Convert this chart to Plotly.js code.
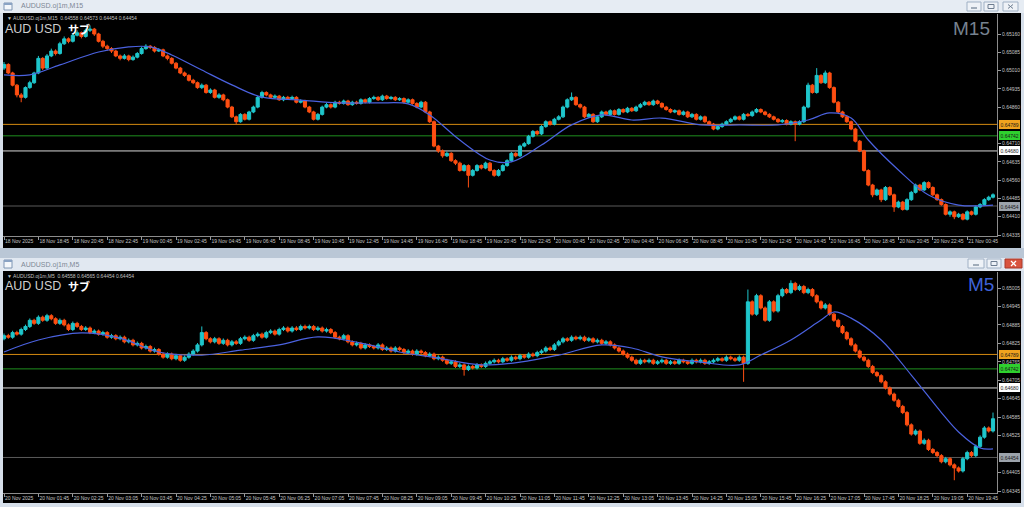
<!DOCTYPE html>
<html><head><meta charset="utf-8">
<script src="https://cdn.plot.ly/plotly-3.0.1.min.js"></script>
<style>html,body{margin:0;padding:0;background:#d6dfea;overflow:hidden}#chart{width:1024px;height:507px}</style>
</head><body><div id="chart"></div>
<script>
// Prices are in points above 0.64300 (1 point = 0.00001)
const BASE = 0.643;
const m15Open = [720,735,700,650,610,600,640,660,700,760, 720,770,790,780,820,840,830,855,865,850, 875,880,860,830,810,800,790,770,760,770, 755,765,780,800,810,805,790,795,770,760, 740,720,700,690,670,660,640,650,620,630, 600,610,590,560,520,500,530,510,540,560, 600,620,610,600,605,590,600,595,600,580, 585,560,540,510,530,560,570,560,580,575, 585,570,580,575,590,580,595,600,590,605, 595,600,590,595,580,590,575,560,580,540, 500,400,380,360,370,340,330,300,320,280, 300,320,310,330,300,280,300,320,340,370, 360,400,410,440,460,450,480,500,490,510, 520,560,590,600,570,560,520,530,500,520, 540,530,545,530,550,540,555,545,560,570, 580,570,585,575,560,550,540,545,530,540, 520,530,510,520,500,490,470,480,490,500, 510,520,510,530,525,540,550,540,530,520, 510,500,505,490,500,490,500,560,650,620, 690,660,700,640,580,540,520,500,470,420, 380,300,240,200,220,180,230,200,150,170, 140,180,210,240,220,250,230,200,180,160, 120,130,110,120,100,130,120,150,160,180, 190];
const m15Close = [735,700,650,610,600,640,660,700,760,720, 770,790,780,820,840,830,855,865,850,875, 880,860,830,810,800,790,770,760,770,755, 765,780,800,810,805,790,795,770,760,740, 720,700,690,670,660,640,650,620,630,600, 610,590,560,520,500,530,510,540,560,600, 620,610,600,605,590,600,595,600,580,585, 560,540,510,530,560,570,560,580,575,585, 570,580,575,590,580,595,600,590,605,595, 600,590,595,580,590,575,560,580,540,500, 400,380,360,370,340,330,300,320,280,300, 320,310,330,300,280,300,320,340,370,360, 400,410,440,460,450,480,500,490,510,520, 560,590,600,570,560,520,530,500,520,540, 530,545,530,550,540,555,545,560,570,580, 570,585,575,560,550,540,545,530,540,520, 530,510,520,500,490,470,480,490,500,510, 520,510,530,525,540,550,540,530,520,510, 500,505,490,500,490,500,560,650,620,690, 660,700,640,580,540,520,500,470,420,380, 300,240,200,220,180,230,200,150,170,140, 180,210,240,220,250,230,200,180,160,120, 130,110,120,100,130,120,150,160,180,190, 200];
const m15High = [745,740,705,655,618,645,668,705,770,765, 778,800,797,828,850,846,862,875,870,882, 895,885,865,836,816,806,795,776,778,775, 772,786,808,818,815,810,802,800,776,765, 745,725,706,695,676,665,657,655,637,635, 617,615,595,565,525,535,535,545,566,606, 627,625,615,612,610,606,606,607,605,592, 590,565,545,536,566,577,575,586,586,591, 590,586,586,596,595,601,607,605,611,610, 606,605,601,600,596,595,580,586,585,545, 505,405,386,378,375,346,336,326,325,306, 326,325,336,335,305,306,326,346,376,375, 406,417,446,466,465,486,506,505,516,527, 566,596,620,605,575,565,536,535,526,546, 545,551,550,556,555,561,560,566,577,586, 585,591,590,580,565,555,551,550,546,545, 536,535,526,525,505,495,486,496,506,516, 526,525,536,536,546,556,555,545,535,525, 515,511,510,506,505,506,566,660,655,720, 695,710,705,645,585,545,525,505,475,425, 385,305,245,226,225,236,235,205,176,175, 186,216,246,245,256,255,235,205,185,165, 136,135,126,125,136,135,156,166,186,196, 206];
const m15Low = [712,695,645,600,580,595,635,655,695,712, 715,765,772,775,815,822,825,850,842,845, 868,852,825,802,792,782,765,752,755,748, 750,760,775,795,798,784,786,765,752,735, 715,695,684,665,654,635,634,615,614,595, 594,584,555,515,490,496,505,505,535,555, 595,604,594,595,585,584,590,590,575,575, 555,535,505,505,525,555,554,555,570,570, 565,565,570,570,575,575,590,585,585,590, 590,585,585,575,575,570,555,555,535,495, 395,372,352,355,335,322,295,295,230,275, 295,304,305,295,274,275,295,315,335,354, 355,395,405,435,444,445,475,484,485,505, 515,555,585,565,554,515,515,495,495,515, 524,525,525,525,535,535,540,540,555,565, 565,565,570,555,545,535,535,525,525,515, 515,505,505,495,485,465,465,475,485,495, 505,505,505,520,520,535,535,525,515,505, 495,495,485,485,420,485,495,555,615,615, 655,655,635,575,535,515,495,465,415,375, 295,235,190,195,170,175,195,130,145,135, 135,175,205,215,215,225,195,175,155,115, 110,100,105,95,95,115,115,145,155,175, 185];
const m5Open = [540,550,545,560,555,570,580,600,590,610, 600,615,605,590,600,585,570,590,580,570, 575,560,565,555,560,545,550,540,545,530, 535,520,525,510,515,500,505,490,480,490, 475,485,470,480,490,500,520,560,540,530, 540,525,535,520,530,525,540,545,535,550, 555,545,560,565,555,570,575,565,575,570, 580,575,580,570,575,565,570,560,545,540, 550,530,520,525,510,520,515,510,520,505, 510,500,510,505,495,500,490,500,495,485, 490,475,480,470,460,465,450,455,440,450, 445,455,450,460,465,470,465,475,470,480, 475,485,480,490,485,495,500,510,505,520, 530,540,535,545,540,545,535,540,530,535, 525,530,520,510,500,490,480,470,460,470, 465,470,460,465,470,460,465,460,470,465, 460,470,465,470,460,465,470,475,470,480, 475,470,480,460,660,620,680,640,600,660, 630,680,700,690,720,700,710,690,700,680, 660,640,650,620,600,580,560,540,520,500, 480,470,450,430,420,400,380,360,340,320, 300,260,230,240,200,210,180,170,160,140, 150,130,120,110,150,170,160,190,220,250, 240];
const m5Close = [550,545,560,555,570,580,600,590,610,600, 615,605,590,600,585,570,590,580,570,575, 560,565,555,560,545,550,540,545,530,535, 520,525,510,515,500,505,490,480,490,475, 485,470,480,490,500,520,560,540,530,540, 525,535,520,530,525,540,545,535,550,555, 545,560,565,555,570,575,565,575,570,580, 575,580,570,575,565,570,560,545,540,550, 530,520,525,510,520,515,510,520,505,510, 500,510,505,495,500,490,500,495,485,490, 475,480,470,460,465,450,455,440,450,445, 455,450,460,465,470,465,475,470,480,475, 485,480,490,485,495,500,510,505,520,530, 540,535,545,540,545,535,540,530,535,525, 530,520,510,500,490,480,470,460,470,465, 470,460,465,470,460,465,460,470,465,460, 470,465,470,460,465,470,475,470,480,475, 470,480,460,660,620,680,640,600,660,630, 680,700,690,720,700,710,690,700,680,660, 640,650,620,600,580,560,540,520,500,480, 470,450,430,420,400,380,360,340,320,300, 260,230,240,200,210,180,170,160,140,150, 130,120,110,150,170,160,190,220,250,240, 280];
const m5High = [557,556,566,566,576,586,606,605,616,615, 621,620,610,606,605,590,596,595,585,581, 580,571,570,566,565,556,555,551,550,541, 540,531,530,521,520,511,510,495,496,495, 491,490,486,496,506,526,580,565,545,546, 545,541,540,536,536,546,551,550,556,561, 560,566,571,570,576,581,580,581,581,586, 586,586,585,581,580,576,575,565,550,556, 555,535,531,530,526,525,520,526,525,516, 515,516,515,510,506,505,506,505,500,496, 495,486,485,475,471,470,461,460,456,455, 461,460,466,471,476,475,481,480,486,485, 491,490,496,495,501,506,516,515,526,536, 546,545,551,550,551,550,546,545,541,540, 536,535,525,515,505,495,485,475,476,475, 476,475,471,476,475,471,470,476,475,470, 476,475,476,475,471,476,481,480,486,485, 480,486,485,700,665,686,685,645,666,665, 686,706,705,730,725,716,715,706,705,685, 665,656,655,625,605,585,565,545,525,505, 485,475,455,435,425,405,385,365,345,325, 305,265,246,245,216,215,185,175,165,156, 155,135,125,156,176,175,196,226,256,255, 300];
const m5Low = [535,540,540,550,550,565,575,585,585,595, 595,600,585,585,580,565,565,575,565,565, 555,555,550,550,540,540,535,535,525,525, 515,515,505,505,495,495,485,475,475,470, 470,465,465,475,485,495,515,535,525,525, 520,520,515,515,520,520,535,530,530,545, 540,540,555,550,550,565,560,560,565,565, 570,570,565,565,560,560,555,540,535,535, 525,515,515,505,505,510,505,505,500,500, 495,495,500,490,490,485,485,490,480,480, 470,470,465,455,455,445,445,420,435,440, 440,445,445,455,460,460,460,465,465,470, 470,475,475,480,480,490,495,500,500,515, 525,530,530,535,535,530,530,525,525,520, 520,515,505,495,485,475,465,455,455,460, 460,455,455,460,455,455,455,455,460,455, 455,460,460,455,455,460,465,465,465,470, 465,465,400,455,615,615,635,595,595,625, 625,675,685,685,695,695,685,685,675,655, 635,635,615,595,575,555,535,515,495,475, 465,445,425,415,395,375,355,335,315,295, 255,225,225,195,195,175,165,155,135,135, 125,80,105,105,145,155,155,185,215,235, 235];

// Moving average readings (bar index, price)
const maM15Idx = [0,6,13,22,29,34,39,46,53,60,69,78,87,94,99,106,113,118,125,132,139,146,153,162,171,180,187,192,197,201,208,215,222,230];
const maM15Val = [0.64992,0.64992,0.65033,0.65086,0.65107,0.65107,0.65074,0.65012,0.64951,0.64901,0.64889,0.64877,0.64877,0.64873,0.64828,0.64725,0.64643,0.64635,0.64704,0.64787,0.64828,0.64807,0.64815,0.64787,0.64787,0.64787,0.64807,0.64836,0.64815,0.64725,0.64602,0.64499,0.64458,0.64458];
const maM5Idx = [0,8,18,27,36,46,55,64,73,83,92,101,111,120,129,139,146,153,162,171,176,183,190,193,197,204,211,218,222,227,230];
const maM5Val = [0.64797,0.64836,0.64859,0.64842,0.64797,0.64787,0.64803,0.64820,0.64846,0.64826,0.64797,0.64777,0.64755,0.64764,0.64787,0.64820,0.64810,0.64781,0.64764,0.64755,0.64787,0.64836,0.64901,0.64927,0.64907,0.64836,0.64722,0.64600,0.64537,0.64485,0.64482];

const m15TickVals = [0.64335,0.64410,0.64485,0.64560,0.64635,0.64710,0.64860,0.64935,0.65010,0.65085,0.65160];
const m15TickText = ["0.64335","0.64410","0.64485","0.64560","0.64635","0.64710","0.64860","0.64935","0.65010","0.65085","0.65160"];
const m5TickVals = [0.64345,0.64405,0.64525,0.64585,0.64645,0.64705,0.64765,0.64825,0.64885,0.64945,0.65005];
const m5TickText = ["0.64345","0.64405","0.64525","0.64585","0.64645","0.64705","0.64765","0.64825","0.64885","0.64945","0.65005"];
const m15TimeLabels = ["18 Nov 2025","18 Nov 18:45","18 Nov 20:45","18 Nov 22:45","19 Nov 00:45","19 Nov 02:45","19 Nov 04:45","19 Nov 06:45","19 Nov 08:45","19 Nov 10:45","19 Nov 12:45","19 Nov 14:45","19 Nov 16:45","19 Nov 18:45","19 Nov 20:45","19 Nov 22:45","20 Nov 00:45","20 Nov 02:45","20 Nov 04:45","20 Nov 06:45","20 Nov 08:45","20 Nov 10:45","20 Nov 12:45","20 Nov 14:45","20 Nov 16:45","20 Nov 18:45","20 Nov 20:45","20 Nov 22:45","21 Nov 00:45"];
const m5TimeLabels = ["20 Nov 2025","20 Nov 01:45","20 Nov 02:25","20 Nov 03:05","20 Nov 03:45","20 Nov 04:25","20 Nov 05:05","20 Nov 05:45","20 Nov 06:25","20 Nov 07:05","20 Nov 07:45","20 Nov 08:25","20 Nov 09:05","20 Nov 09:45","20 Nov 10:25","20 Nov 11:05","20 Nov 11:45","20 Nov 12:25","20 Nov 13:05","20 Nov 13:45","20 Nov 14:25","20 Nov 15:05","20 Nov 15:45","20 Nov 16:25","20 Nov 17:05","20 Nov 17:45","20 Nov 18:25","20 Nov 19:05","20 Nov 19:45"];
const levelPrices = {orange:0.64789, green:0.64742, white:0.64680, bid:0.64454};
const m15Info = "▼ AUDUSD.oj1m,M15  0.64558 0.64573 0.64454 0.64454";
const m5Info = "▼ AUDUSD.oj1m,M5  0.64558 0.64565 0.64454 0.64454";

const toP = a => a.map(v => +(BASE + v/1e5).toFixed(5));
const W=1024,H=507;
const fx=x=>x/W, fy=y=>1-y/H;
const FONT='Liberation Sans, Arial, sans-serif';
const UP='#1fc6cb', DN='#ff4f12', MA='#4b62e0';
const labelEvery = 8;

function candle(o,h,l,c,xa,ya){
  return {type:'candlestick', x:o.map((_,i)=>i), open:toP(o), high:toP(h), low:toP(l), close:toP(c),
    xaxis:xa, yaxis:ya, whiskerwidth:0, hoverinfo:'skip', showlegend:false,
    increasing:{line:{color:UP,width:1},fillcolor:UP},
    decreasing:{line:{color:DN,width:1},fillcolor:DN}};
}
const data = [
  candle(m15Open,m15High,m15Low,m15Close,'x','y'),
  {type:'scatter',mode:'lines',x:maM15Idx,y:maM15Val,xaxis:'x',yaxis:'y',line:{color:MA,width:1.2,shape:'spline'},hoverinfo:'skip',showlegend:false},
  candle(m5Open,m5High,m5Low,m5Close,'x2','y2'),
  {type:'scatter',mode:'lines',x:maM5Idx,y:maM5Val,xaxis:'x2',yaxis:'y2',line:{color:MA,width:1.2,shape:'spline'},hoverinfo:'skip',showlegend:false}
];

const pxPerBar = 4.3;
function xRange(){ const r0 = -1/pxPerBar; return [r0, r0 + 994/pxPerBar]; }
function xAxis(labels, anchor){
  return {domain:[fx(3),fx(997)], range:xRange(), anchor:anchor, showgrid:false, zeroline:false,
    tickvals:labels.map((_,i)=>i*labelEvery), ticktext:labels, ticks:'outside', ticklen:3, tickcolor:'#9a9a9a',
    tickangle:0, ticklabelposition:'outside right', ticklabelstandoff:0, tickfont:{family:FONT,size:5,color:'#c4c4c4'},
    showline:true, linecolor:'#8c8c8c', linewidth:1, rangeslider:{visible:false}, fixedrange:true};
}
function yAxis(dom, rng, vals, text, anchor){
  return {domain:dom, range:rng, side:'right', anchor:anchor, showgrid:false, zeroline:false,
    tickvals:vals, ticktext:text, ticks:'outside', ticklen:3, tickcolor:'#9a9a9a',
    tickfont:{family:FONT,size:5,color:'#c4c4c4'}, showline:true, linecolor:'#8c8c8c', linewidth:1, fixedrange:true};
}

const shapes = [];
function rect(x0,y0,x1,y1,fill,line){ shapes.push({type:'rect',xref:'paper',yref:'paper',x0:fx(x0),x1:fx(x1),y0:fy(y1),y1:fy(y0),fillcolor:fill,line:{color:line||fill,width:line?1:0},layer:'below'}); }
function seg(x0,y0,x1,y1,col,w){ shapes.push({type:'line',xref:'paper',yref:'paper',x0:fx(x0),x1:fx(x1),y0:fy(y0),y1:fy(y1),line:{color:col,width:w||1},layer:'above'}); }
rect(0,0,1024,13,'#e6ecf3');
rect(0,248,1024,258,'#bac7d6');
rect(0,258,1024,271,'#e1e8f1');
rect(3,13,1021,248,'#000000');
rect(3,271,1021,503,'#000000');
rect(4,3,12,10,'#f4f7fb','#7f95b3'); rect(4,3,12,5,'#8aa3c4');
rect(4,260,12,268,'#f4f7fb','#7f95b3'); rect(4,260,12,262,'#8aa3c4');
rect(967,2,981,11,'#eef2f7','#9fb0c4'); seg(971,8,977,8,'#6d7d90',1.2);
rect(984,2,998,11,'#eef2f7','#9fb0c4'); rect(988,4.5,994,8.5,'rgba(0,0,0,0)','#6d7d90');
rect(1003,2,1018,11,'#eef2f7','#9fb0c4'); seg(1008,4.5,1013,8.5,'#6d7d90',1); seg(1008,8.5,1013,4.5,'#6d7d90',1);
rect(968,259,984,268,'#eef2f7','#9fb0c4'); seg(973,265,979,265,'#6d7d90',1.2);
rect(987,259,1001,268,'#eef2f7','#9fb0c4'); rect(991,261.5,997,265.5,'rgba(0,0,0,0)','#6d7d90');
rect(1005,259,1022,268,'#d9543f','#a8382a'); seg(1011,261,1016,266,'#ffffff',1.3); seg(1011,266,1016,261,'#ffffff',1.3);

function hline(ya, xa, price, col, w){ shapes.push({type:'line',xref:xa+' domain',yref:ya,x0:0,x1:1,y0:price,y1:price,line:{color:col,width:w||1},layer:'below'}); }
[['y','x'],['y2','x2']].forEach(([ya,xa])=>{
  hline(ya,xa,levelPrices.orange,'#d48a10');
  hline(ya,xa,levelPrices.green,'#1f8f1f');
  hline(ya,xa,levelPrices.white,'#d8d8d8');
  hline(ya,xa,levelPrices.bid,'#5a5a5a');
});

const ann = [];
function txt(x,y,t,size,col,opts){ ann.push(Object.assign({xref:'paper',yref:'paper',x:fx(x),y:fy(y),text:t,showarrow:false,xanchor:'left',yanchor:'middle',borderpad:0,font:{family:FONT,size:size,color:col}},opts||{})); }
function plabel(ya, price, bg, fg){ ann.push({xref:'paper',yref:ya,x:fx(998.5),y:price,text:price.toFixed(5),showarrow:false,xanchor:'left',yanchor:'middle',bgcolor:bg,bordercolor:bg,borderpad:0.5,font:{family:FONT,size:5,color:fg}}); }
['y','y2'].forEach(ya=>{
  plabel(ya,levelPrices.orange,'#f0a21e','#1a1a1a');
  plabel(ya,levelPrices.green,'#2ed12e','#1a1a1a');
  plabel(ya,levelPrices.white,'#ffffff','#1a1a1a');
  plabel(ya,levelPrices.bid,'#9ca3ab','#1a1a1a');
});
txt(20,6.5,'AUDUSD.oj1m,M15',7,'#7d8896');
txt(20,264.5,'AUDUSD.oj1m,M5',7,'#7d8896');
txt(6,18,m15Info,5,'#c0c0c0');
txt(6,276,m5Info,5,'#c0c0c0');
txt(4,29,'AUD USD',12.5,'#cfcfcf');
txt(67,29,'<b>サブ</b>',11,'#ffffff',{font:{family:'Noto Sans CJK JP',size:11,color:'#ffffff'}});
txt(4,286,'AUD USD',12.5,'#cfcfcf');
txt(67,286,'<b>サブ</b>',11,'#ffffff',{font:{family:'Noto Sans CJK JP',size:11,color:'#ffffff'}});
txt(991,29,'M15',19,'#76828f',{xanchor:'right'});
txt(995,284,'M5',19,'#3f63d8',{xanchor:'right'});

const layout = {width:W,height:H,margin:{l:0,r:0,t:0,b:0},paper_bgcolor:'#d6dfea',plot_bgcolor:'#000000',
  showlegend:false, dragmode:false, hovermode:false, boxgap:0.2, boxgroupgap:0.1,
  xaxis:xAxis(m15TimeLabels,'y'),
  yaxis:yAxis([fy(236),fy(14)],[0.65160-(236-34)/24364,0.65160+(34-14)/24364],m15TickVals,m15TickText,'x'),
  xaxis2:xAxis(m5TimeLabels,'y2'),
  yaxis2:yAxis([fy(493),fy(272)],[0.65005-(493-288)/30758,0.65005+(288-272)/30758],m5TickVals,m5TickText,'x2'),
  shapes:shapes, annotations:ann};
Plotly.newPlot('chart',data,layout,{displayModeBar:false,staticPlot:true});
</script></body></html>
